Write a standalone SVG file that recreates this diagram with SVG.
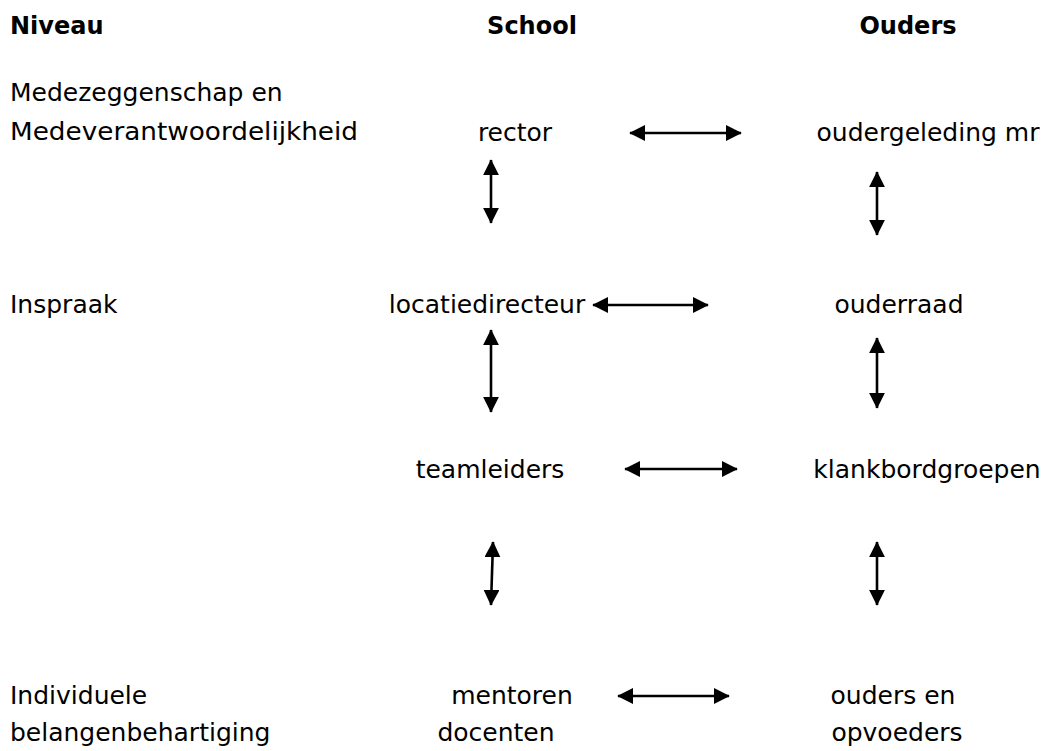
<svg xmlns="http://www.w3.org/2000/svg" width="1059" height="751" viewBox="0 0 1059 751">
<style>
text{font-family:"DejaVu Sans","Liberation Sans",sans-serif;font-size:25px;fill:#000}
.h{font-weight:bold;font-size:24px}
.c{stroke:#000;stroke-width:2.6;fill:none;marker-start:url(#a);marker-end:url(#a)}
</style>
<defs>
<marker id="a" viewBox="0 0 10 10" refX="9.5" refY="5" markerUnits="userSpaceOnUse" markerWidth="16" markerHeight="16" orient="auto-start-reverse"><path d="M0,0 L10,5 L0,10 Z" fill="#000"/></marker>
</defs>
<rect width="1059" height="751" fill="#fff"/>
<g id="headers">
<text class="h" x="10" y="34">Niveau</text>
<text class="h" x="532" y="34" text-anchor="middle">School</text>
<text class="h" x="908" y="34" text-anchor="middle">Ouders</text>
</g>
<g id="levels">
<text x="10" y="101">Medezeggenschap en</text>
<text x="10" y="140" textLength="348" lengthAdjust="spacingAndGlyphs">Medeverantwoordelijkheid</text>
<text x="10" y="313">Inspraak</text>
<text x="10" y="704">Individuele</text>
<text x="10" y="741">belangenbehartiging</text>
</g>
<g id="rector"><text x="515" y="141" text-anchor="middle">rector</text></g>
<g id="oudergeleding"><text x="928" y="141" text-anchor="middle">oudergeleding mr</text></g>
<g id="locatiedirecteur"><text x="487" y="313" text-anchor="middle">locatiedirecteur</text></g>
<g id="ouderraad"><text x="899" y="313" text-anchor="middle">ouderraad</text></g>
<g id="teamleiders"><text x="490" y="478" text-anchor="middle">teamleiders</text></g>
<g id="klankbordgroepen"><text x="927" y="478" text-anchor="middle">klankbordgroepen</text></g>
<g id="mentoren"><text x="512" y="704" text-anchor="middle">mentoren</text><text x="496" y="741" text-anchor="middle">docenten</text></g>
<g id="ouders"><text x="893" y="704" text-anchor="middle">ouders en</text><text x="897" y="741" text-anchor="middle">opvoeders</text></g>
<g id="connectors">
<line class="c" x1="630" y1="133" x2="741" y2="133"/>
<line class="c" x1="491" y1="160" x2="491" y2="223"/>
<line class="c" x1="877" y1="172" x2="877" y2="235"/>
<line class="c" x1="593" y1="305" x2="708" y2="305"/>
<line class="c" x1="491" y1="330" x2="491" y2="412"/>
<line class="c" x1="877" y1="338" x2="877" y2="408"/>
<line class="c" x1="625" y1="469" x2="737" y2="469"/>
<line class="c" x1="493" y1="542" x2="491" y2="605"/>
<line class="c" x1="877" y1="542" x2="877" y2="605"/>
<line class="c" x1="618" y1="696" x2="729" y2="696"/>
</g>
</svg>
